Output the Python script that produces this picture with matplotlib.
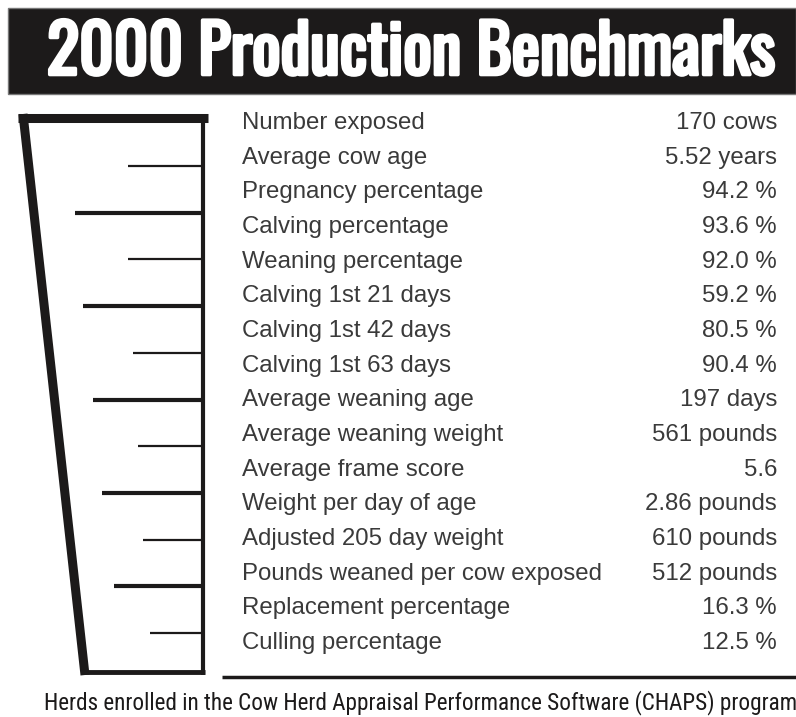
import matplotlib
matplotlib.use("Agg")
import matplotlib.pyplot as plt
import matplotlib.patheffects as pe

title = "2000 Production Benchmarks"
footnote = "Herds enrolled in the Cow Herd Appraisal Performance Software (CHAPS) program"

labels = ["Number exposed", "Average cow age", "Pregnancy percentage",
          "Calving percentage", "Weaning percentage", "Calving 1st 21 days",
          "Calving 1st 42 days", "Calving 1st 63 days", "Average weaning age",
          "Average weaning weight", "Average frame score", "Weight per day of age",
          "Adjusted 205 day weight", "Pounds weaned per cow exposed",
          "Replacement percentage", "Culling percentage"]
values = ["170", "5.52", "94.2", "93.6", "92.0", "59.2", "80.5", "90.4",
          "197", "561", "5.6", "2.86", "610", "512", "16.3", "12.5"]
units = ["cows", "years", "%", "%", "%", "%", "%", "%",
         "days", "pounds", "", "pounds", "pounds", "pounds", "%", "%"]

W, H = 796, 717
fig = plt.figure(figsize=(W / 100, H / 100), dpi=100)
ax = fig.add_axes([0, 0, 1, 1])
ax.set_xlim(0, W)
ax.set_ylim(H, 0)
ax.axis("off")

ink = "#1c1a1a"
txt = "#3a3a3a"
cond_bold = ["Oswald", "Roboto Condensed", "Saira Condensed", "DejaVu Sans"]
cond = ["Roboto Condensed", "Sofia Sans Condensed", "Saira SemiCondensed", "DejaVu Sans"]
body = ["Liberation Sans", "DejaVu Sans"]


def fit_width(t, width):
    # shrink/grow the font so the text spans the given pixel width
    r = fig.canvas.get_renderer()
    w = t.get_window_extent(r).width
    t.set_fontsize(t.get_fontsize() * width / w)


# title bar
ax.add_patch(plt.Rectangle((8, 8), W - 8, 86, facecolor=ink, edgecolor="#777777", lw=1))
t = ax.text(47, 54, title, color="white", fontsize=50, fontweight="bold",
            family=cond_bold, ha="left", va="center",
            path_effects=[pe.withStroke(linewidth=2.6, foreground="white")])
fit_width(t, 728)

# bracket
ax.plot([18, 208], [118, 118], color=ink, lw=6.5, solid_capstyle="butt")
ax.plot([203, 203], [114, 675], color=ink, lw=3, solid_capstyle="butt")
ax.plot([84, 205], [672, 672], color=ink, lw=3.5, solid_capstyle="butt")
ax.plot([23, 85], [114, 675], color=ink, lw=6.5, solid_capstyle="butt")

tick_left = [128, 75, 128, 83, 133, 93, 138, 102, 143, 114, 150]
for i, x0 in enumerate(tick_left):
    y = 166 + 46.7 * i
    lw = 3.0 if i % 2 else 1.6
    ax.plot([x0, 203], [y, y], color=ink, lw=lw, solid_capstyle="butt")

# rows
y0, dy = 123, (643 - 123) / (len(labels) - 1)
for i, (lab, v, u) in enumerate(zip(labels, values, units)):
    y = y0 + dy * i
    ax.text(242, y, lab, color=txt, fontsize=17.3, family=body,
            ha="left", va="center")
    s = f"{v} {u}".strip()
    ax.text(777, y, s, color=txt, fontsize=17.3, family=body,
            ha="right", va="center")

ax.plot([222, W], [677, 677], color=ink, lw=2.5, solid_capstyle="butt")

f = ax.text(44, 703, footnote, color=ink, fontsize=13, family=cond,
            ha="left", va="center")
fit_width(f, 748)

fig.savefig("out.png", dpi=100)
